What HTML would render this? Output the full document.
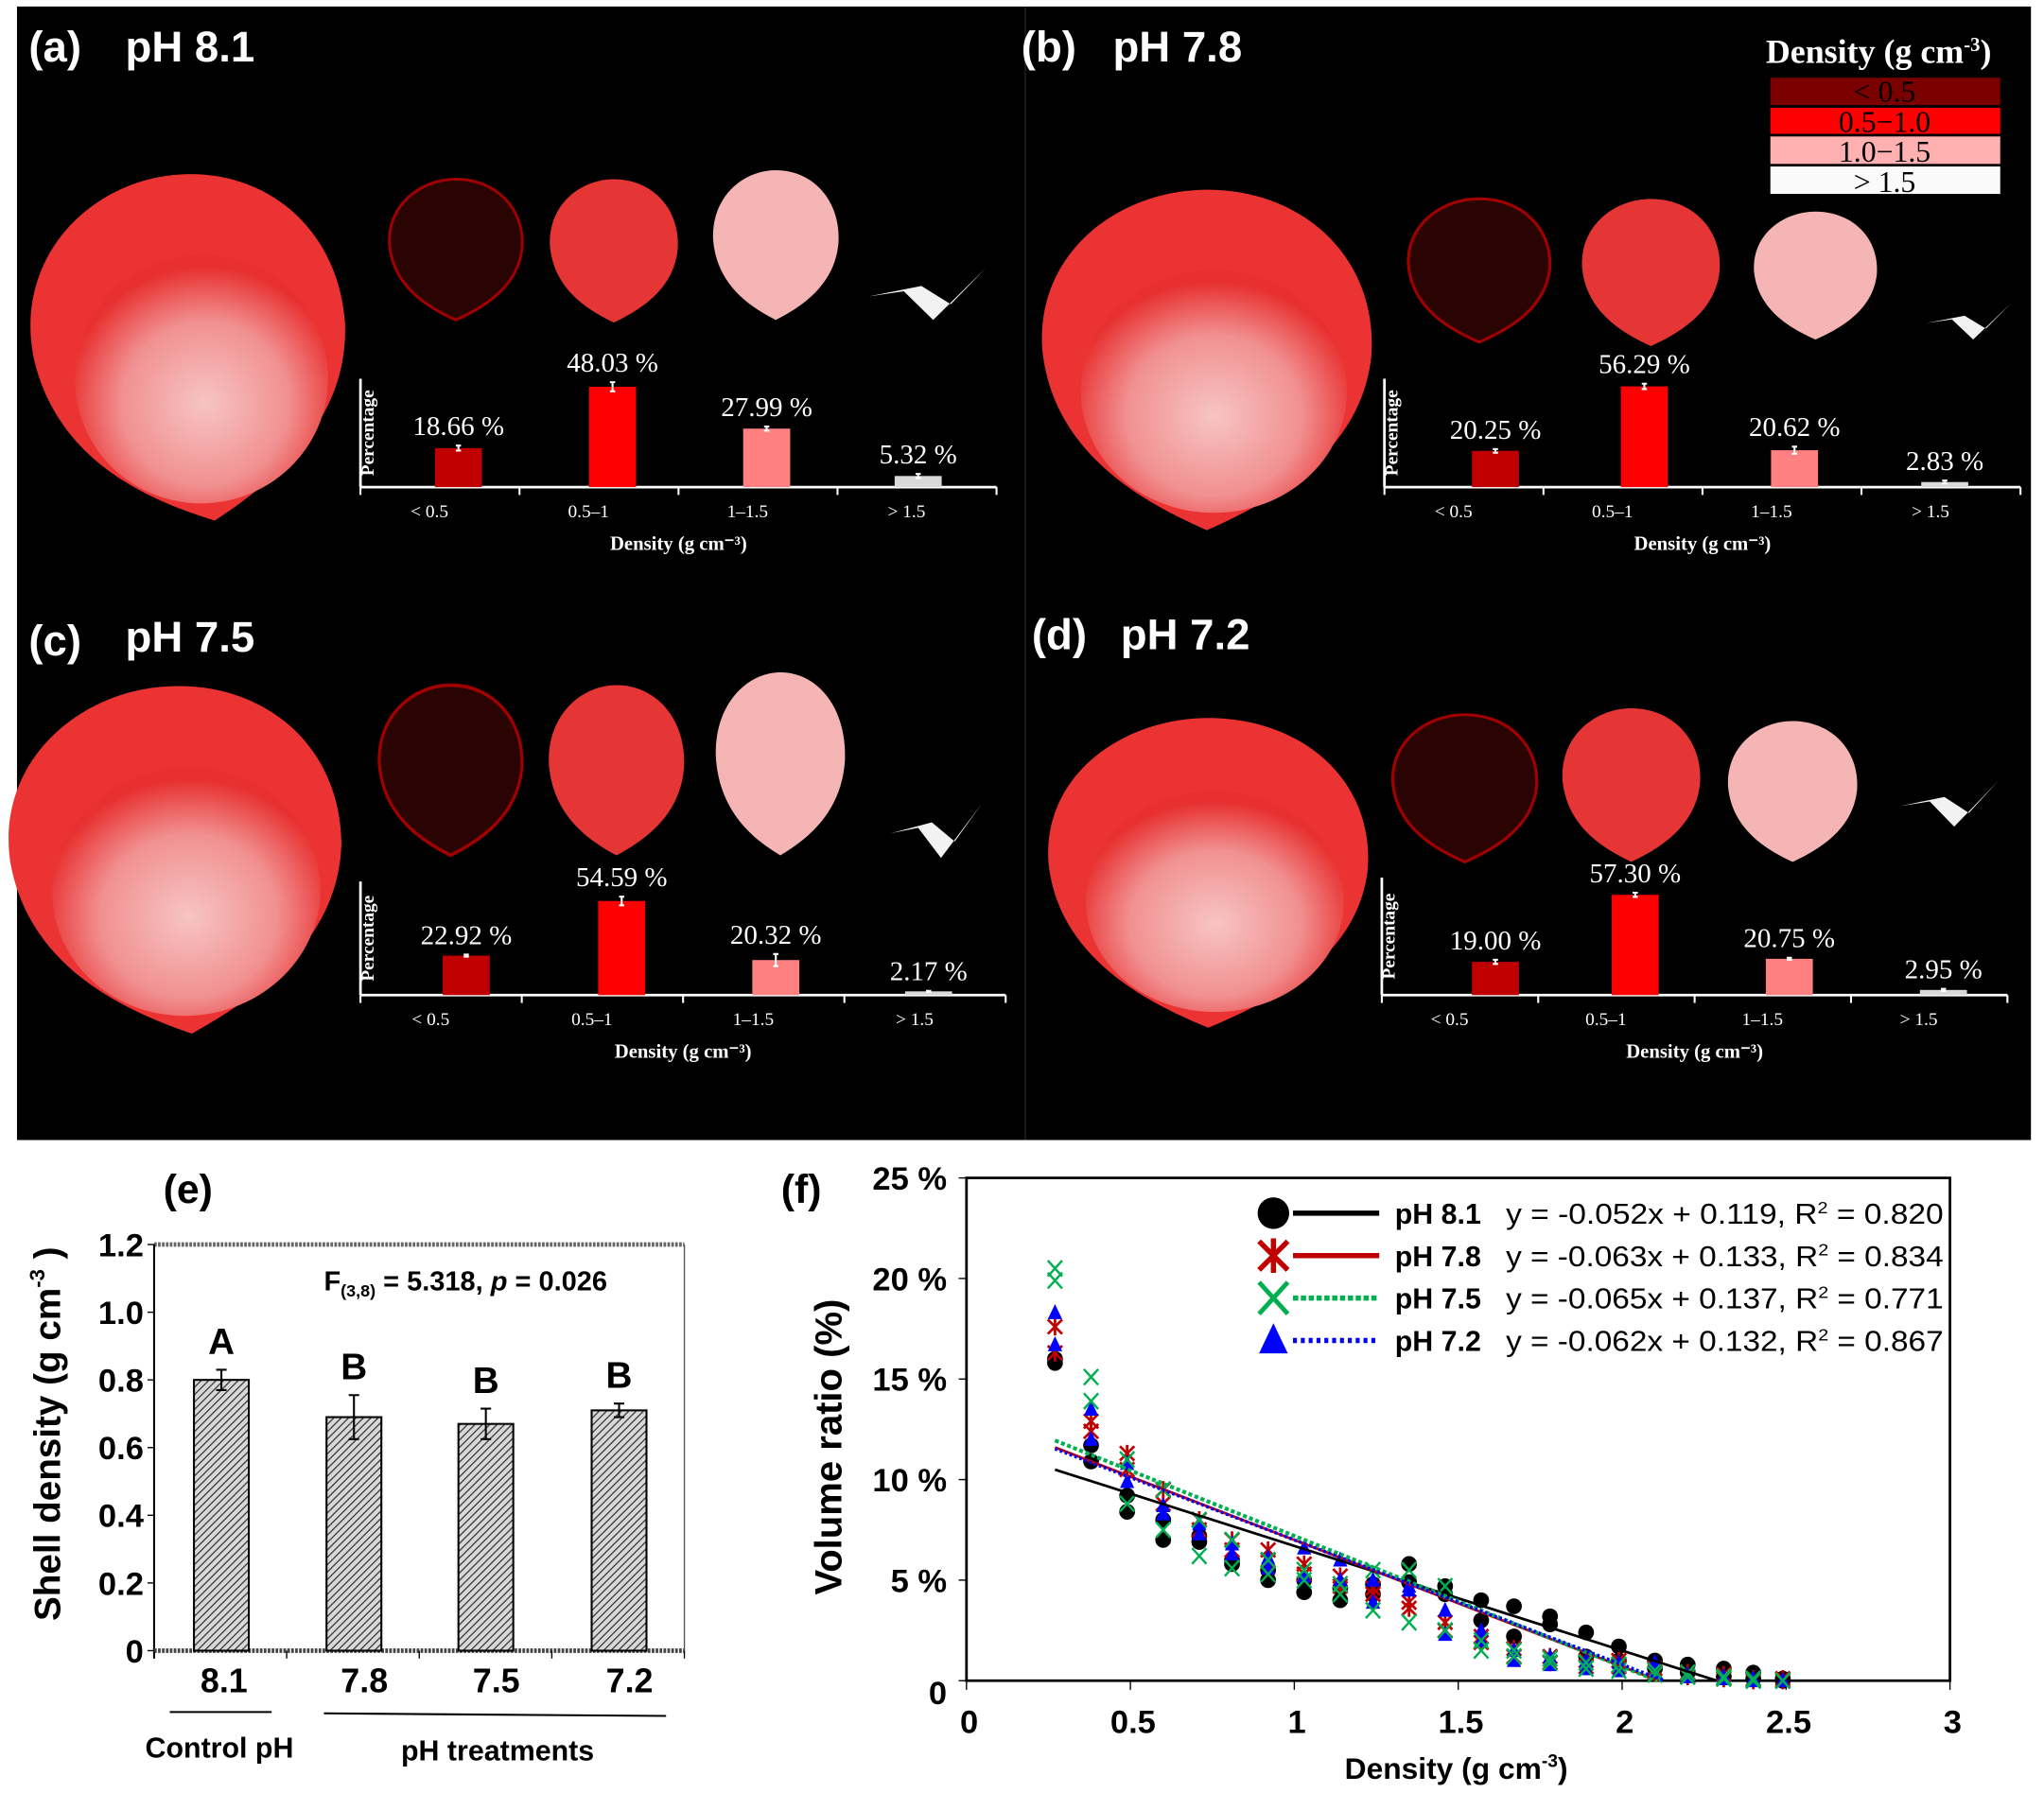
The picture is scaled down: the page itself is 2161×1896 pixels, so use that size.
<!DOCTYPE html>
<html><head><meta charset="utf-8"><style>
html,body{margin:0;padding:0;background:#fff}
svg{display:block}
text{font-family:"Liberation Sans",Arial,sans-serif}
.serif{font-family:"Liberation Serif","Times New Roman",serif}
</style></head><body>
<svg id="fig" width="2161" height="1896" viewBox="0 0 1565 1373" preserveAspectRatio="none" xmlns="http://www.w3.org/2000/svg">
<defs>
<path id="shellU" d="M0.5,1 C0.32,0.92 0.06,0.78 0.03,0.48 C0.01,0.2 0.25,0.02 0.5,0.02 C0.78,0.02 0.99,0.22 0.97,0.5 C0.94,0.78 0.68,0.92 0.5,1 Z"/>
<radialGradient id="bigG" cx="0.5" cy="0.6" r="0.55"><stop offset="0" stop-color="#f7c4c4"/><stop offset="0.6" stop-color="#f19090"/><stop offset="1" stop-color="#e83030"/></radialGradient>
<pattern id="hatch" width="4" height="4" patternUnits="userSpaceOnUse" patternTransform="rotate(45)"><rect width="4" height="4" fill="#d8d8d8"/><line x1="0" y1="0" x2="0" y2="4" stroke="#333" stroke-width="1.8"/></pattern>
</defs>
<rect x="13" y="5" width="1542" height="868" fill="#000"/>
<line x1="785" y1="5" x2="785" y2="873" stroke="#222" stroke-width="1"/>
<g id="shells"></g>
<g id="minis"></g>
<g fill="#fff" font-weight="bold" font-size="33">
<text x="22" y="47">(a)</text><text x="96" y="47">pH 8.1</text>
<text x="782" y="47">(b)</text><text x="852" y="47">pH 7.8</text>
<text x="22" y="502">(c)</text><text x="96" y="499">pH 7.5</text>
<text x="790" y="497">(d)</text><text x="858" y="497">pH 7.2</text>
</g>
<g>
<text class="serif" x="1352" y="48" fill="#fff" font-weight="bold" font-size="26">Density (g cm<tspan dy="-9" font-size="15">-3</tspan><tspan dy="9">)</tspan></text>
<rect x="1355" y="59" width="177" height="22" fill="#7a0000" stroke="#000"/><text class="serif" x="1443" y="78" text-anchor="middle" font-size="23">&lt; 0.5</text>
<rect x="1355" y="82" width="177" height="21" fill="#ff0000" stroke="#000"/><text class="serif" x="1443" y="101" text-anchor="middle" font-size="23">0.5−1.0</text>
<rect x="1355" y="104" width="177" height="22" fill="#ffb0b0" stroke="#000"/><text class="serif" x="1443" y="124" text-anchor="middle" font-size="23">1.0−1.5</text>
<rect x="1355" y="127" width="177" height="22" fill="#fafafa" stroke="#000"/><text class="serif" x="1443" y="147" text-anchor="middle" font-size="23">&gt; 1.5</text>
</g>
<g id="panelE"></g>
<g id="panelF"></g>
</svg>
<script>
const NS="http://www.w3.org/2000/svg";
function mk(tag,attrs,parent,txt){const e=document.createElementNS(NS,tag);for(const k in attrs)e.setAttribute(k,attrs[k]);if(txt!==undefined)e.textContent=txt;parent.appendChild(e);return e;}

// ---------- mini histogram data (panels a-d) ----------
const miniCats=["< 0.5","0.5–1","1–1.5","> 1.5"];
const miniA=[18.66,48.03,27.99,5.32];
const miniB=[20.25,56.29,20.62,2.83];
const miniC=[22.92,54.59,20.32,2.17];
const miniD=[19.00,57.30,20.75,2.95];
const miniErrA=[1.2,2.2,1.0,1.0];
const miniErrB=[1.0,1.5,2.0,0.8];
const miniErrC=[0.6,2.5,3.5,0.3];
const miniErrD=[1.2,1.2,0.6,0.6];
const miniColors=["#c00000","#ff0000","#ff8080","#d9d9d9"];

// ---------- panel e data ----------
const eCats=["8.1","7.8","7.5","7.2"];
const eVals=[0.80,0.69,0.67,0.71];
const eErr=[0.03,0.065,0.045,0.02];
const eLetters=["A","B","B","B"];
const eTicks=[0,0.2,0.4,0.6,0.8,1.0,1.2];

// ---------- panel f data ----------
const fX=[0.27,0.38,0.49,0.6,0.71,0.81,0.92,1.03,1.14,1.24,1.35,1.46,1.57,1.67,1.78,1.89,1.99,2.1,2.2,2.31,2.4,2.49];
const f81a=[16.0,11.7,9.2,8.0,6.9,5.8,5.0,4.4,4.0,4.8,5.8,4.7,4.0,3.7,3.2,2.4,1.7,1.0,0.8,0.6,0.4,0.1];
const f81b=[15.8,10.9,8.4,7.0,7.2,6.0,5.5,5.0,4.6,4.3,4.9,4.3,3.0,2.2,2.8,1.2,1.0,0.6,0.4,0.2,0.1,0.0];
const f78a=[16.3,12.9,11.3,9.5,8.0,7.0,6.5,5.8,5.2,4.6,3.9,2.9,2.2,1.6,1.2,1.0,1.0,0.6,0.4,0.3,0.1,0.1];
const f78b=[17.6,12.4,10.5,8.8,7.5,6.5,6.0,5.3,4.7,4.3,3.6,2.5,1.9,1.2,0.9,0.7,0.7,0.4,0.2,0.1,0.0,0.0];
const f75a=[20.5,15.1,11.0,7.5,6.2,5.6,5.3,5.0,4.3,3.5,2.9,4.7,1.5,1.2,0.9,0.6,0.5,0.3,0.2,0.1,0.1,0.0];
const f75b=[19.9,13.9,8.8,9.5,8.0,7.0,6.0,5.5,4.8,5.5,5.5,2.5,2.0,1.5,1.1,0.9,0.8,0.5,0.4,0.2,0.0,0.0];
const f72a=[18.3,13.5,9.9,8.7,7.3,6.3,5.6,5.2,6.0,3.9,4.5,3.5,2.0,1.0,0.8,0.6,0.5,0.9,0.3,0.1,0.1,0.0];
const f72b=[16.7,12.0,10.8,8.3,7.8,6.8,6.1,6.6,5.0,5.0,4.7,2.3,2.5,1.5,1.2,1.0,0.9,0.4,0.2,0.2,0.0,0.0];
const fSlopes=[-0.052,-0.063,-0.065,-0.062];
const fIntercepts=[0.119,0.133,0.137,0.132];
const fR2=["0.820","0.834","0.771","0.867"];
const fNames=["pH 8.1","pH 7.8","pH 7.5","pH 7.2"];
const fXTicks=[0,0.5,1,1.5,2,2.5,3];
const fYTicks=[0,5,10,15,20,25];

// ---------- shells ----------
const shells=document.getElementById('shells');
function shell(x,y,w,h,fill,stroke,name,rot){
  const g=mk('g',{transform:`translate(${x},${y}) rotate(${rot||0},${w/2},${h/2}) scale(${w},${h})`},shells);
  
  
  mk('use',{href:'#shellU',fill:fill,stroke:stroke||'none','stroke-width':0.02},g);
  return g;
}
const bigs=[[18,128,255,272,'big-shell-a',-8],[790,140,268,266,'big-shell-b',0],[0,520,270,272,'big-shell-c',-5],[795,545,260,242,'big-shell-d',0]];
bigs.forEach(b=>{
  const g=shell(b[0],b[1],b[2],b[3],'#ec3333',null,b[4],b[5]);
  mk('ellipse',{cx:0.52,cy:0.6,rx:0.38,ry:0.35,fill:'url(#bigG)'},g);
});
const smalls=[[295,135,108,110],[418,135,104,112],[543,128,102,117],[1075,150,115,112],[1208,150,112,115],[1340,160,100,100],[287,522,116,133],[417,522,110,133],[545,512,105,143],[1063,545,117,115],[1193,540,112,120],[1320,550,105,110]];
const smallFill=['#2a0303','#e53535','#f6b5b5'];
smalls.forEach((s,i)=>{
  const k=i%3;
  shell(s[0],s[1],s[2],s[3],smallFill[k],k===0?'#a00000':'none','density-shell-'+(i+1),0);
});
const flakes=[[665,205,90,40],[1475,232,65,28],[682,615,70,42],[1455,598,75,35]];
flakes.forEach((f,i)=>{
  const p=mk('path',{d:`M${f[0]},${f[1]+f[3]*0.55} L${f[0]+f[2]*0.3},${f[1]+f[3]*0.45} L${f[0]+f[2]*0.55},${f[1]+f[3]} L${f[0]+f[2]},${f[1]} L${f[0]+f[2]*0.7},${f[1]+f[3]*0.7} L${f[0]+f[2]*0.45},${f[1]+f[3]*0.35} Z`,fill:'#f2f2f2'},shells);
  
  
});

// ---------- mini histograms ----------
const minis=document.getElementById('minis');
// [x0, x1, baseline, axisTop, bar centres, values, errors, id, px-per-percent]
const miniCfg=[[276,763,373,290,[351,469,587,703],miniA,miniErrA,'a',1.6],[1060,1547,373,290,[1145,1259,1374,1489],miniB,miniErrB,'b',1.37],[276,770,762,675,[357,476,594,711],miniC,miniErrC,'c',1.32],[1058,1537,762,672,[1145,1252,1370,1488],miniD,miniErrD,'d',1.34]];
miniCfg.forEach(c=>{
  const [x0,x1,base,top,cx,vals,errs,id,sc]=c;
  const g=mk('g',{},minis);
  
  
  const ys=v=>base-v*sc;
  mk('line',{x1:x0,y1:base,x2:x1,y2:base,stroke:'#fff','stroke-width':2},g);
  mk('line',{x1:x0,y1:top,x2:x0,y2:base,stroke:'#fff','stroke-width':2},g);
  const step=(x1-x0)/4;
  for(let i=0;i<=4;i++)mk('line',{x1:x0+i*step,y1:base,x2:x0+i*step,y2:base+6,stroke:'#fff','stroke-width':1.5},g);
  vals.forEach((v,i)=>{
    const r=mk('rect',{x:cx[i]-18,y:ys(v),width:36,height:base-ys(v),fill:miniColors[i]},g);
    
    
    mk('path',{d:`M${cx[i]},${ys(v+errs[i])}V${ys(v-errs[i])}M${cx[i]-2},${ys(v+errs[i])}h4M${cx[i]-2},${ys(v-errs[i])}h4`,stroke:'#fff','stroke-width':1.5},g);
    mk('text',{class:'serif',x:cx[i],y:ys(v+errs[i])-8,'text-anchor':'middle',fill:'#fff','font-size':21},g,v.toFixed(2)+' %');
    mk('text',{class:'serif',x:x0+step*(i+0.5)-8,y:base+23,'text-anchor':'middle',fill:'#fff','font-size':14},g,miniCats[i]);
  });
  mk('text',{class:'serif',x:(x0+x1)/2,y:base+48,'text-anchor':'middle',fill:'#fff','font-size':15,'font-weight':'bold'},g,'Density (g cm⁻³)');
  mk('text',{class:'serif',transform:`translate(${x0+10},${(top+base)/2}) rotate(-90)`,'text-anchor':'middle',fill:'#fff','font-size':14,'font-weight':'bold'},g,'Percentage');
});

// ---------- panel e ----------
(function(){
  const g=document.getElementById('panelE');
  const L=118,R=524,Y0=1264,Y1=953;
  const y=v=>Y0-(v/1.2)*(Y0-Y1);
  const xc=[169.5,271,372,474];
  mk('text',{x:125,y:921,'font-size':31,'font-weight':'bold'},g,'(e)');
  mk('line',{x1:L,y1:Y1,x2:R,y2:Y1,stroke:'#666','stroke-width':3.5,'stroke-dasharray':'2,1'},g);
  mk('line',{x1:R,y1:Y1,x2:R,y2:Y0,stroke:'#555','stroke-width':1},g);
  mk('line',{x1:L,y1:Y1,x2:L,y2:Y0+6,stroke:'#000','stroke-width':1.5},g);
  mk('line',{x1:L,y1:Y0,x2:R,y2:Y0,stroke:'#444','stroke-width':3.5,'stroke-dasharray':'2,1'},g);
  eTicks.forEach(t=>{
    mk('line',{x1:L-5,y1:y(t),x2:L,y2:y(t),stroke:'#000'},g);
    mk('text',{x:L-8,y:y(t)+9,'text-anchor':'end','font-size':25,'font-weight':'bold'},g,t===0?'0':t.toFixed(1));
  });
  for(let i=0;i<=4;i++){const xx=L+i*(R-L)/4;mk('line',{x1:xx,y1:Y0,x2:xx,y2:Y0+6,stroke:'#000'},g);}
  eVals.forEach((v,i)=>{
    const r=mk('rect',{x:xc[i]-21,y:y(v),width:42,height:Y0-y(v),fill:'url(#hatch)',stroke:'#000','stroke-width':1.5},g);
    
    
    const a=y(v+eErr[i]),b=y(v-eErr[i]);
    mk('path',{d:`M${xc[i]},${a}V${b}M${xc[i]-4},${a}h8M${xc[i]-4},${b}h8`,stroke:'#000','stroke-width':1.5},g);
    mk('text',{x:xc[i],y:a-12,'text-anchor':'middle','font-size':28,'font-weight':'bold'},g,eLetters[i]);
    mk('text',{x:xc[i]+(i===0?2:8),y:Y0+32,'text-anchor':'middle','font-size':26,'font-weight':'bold'},g,eCats[i]);
  });
  const ft=mk('text',{x:248,y:988,'font-size':21,'font-weight':'bold'},g);
  ft.innerHTML='F<tspan font-size="13" dy="5">(3,8)</tspan><tspan dy="-5"> = 5.318,  </tspan><tspan font-style="italic">p</tspan> = 0.026';
  mk('line',{x1:130,y1:1311,x2:208,y2:1311,stroke:'#000','stroke-width':1.5},g);
  mk('line',{x1:248,y1:1312,x2:510,y2:1314,stroke:'#000','stroke-width':1.5},g);
  mk('text',{x:168,y:1346,'text-anchor':'middle','font-size':22,'font-weight':'bold'},g,'Control pH');
  mk('text',{x:381,y:1348,'text-anchor':'middle','font-size':22,'font-weight':'bold'},g,'pH treatments');
  const yt=mk('text',{transform:'translate(46,1098) rotate(-90)','text-anchor':'middle','font-size':28,'font-weight':'bold'},g);
  yt.innerHTML='Shell density (g cm<tspan font-size="16" dy="-12">-3</tspan><tspan dy="12"> )</tspan>';
  
  
})();

// ---------- panel f ----------
(function(){
  const g=document.getElementById('panelF');
  const X0=740,X3=1493,Y0=1287,Y25=902;
  const x=v=>X0+v/3*(X3-X0);
  const y=v=>Y0-v/25*(Y0-Y25);
  mk('text',{x:598,y:921,'font-size':31,'font-weight':'bold'},g,'(f)');
  mk('rect',{x:X0,y:Y25,width:X3-X0,height:Y0-Y25,fill:'none',stroke:'#000','stroke-width':2},g);
  fXTicks.forEach(t=>{mk('line',{x1:x(t),y1:Y0,x2:x(t),y2:Y0+7,stroke:'#000'},g);
    mk('text',{x:x(t)+2,y:Y0+40,'text-anchor':'middle','font-size':25,'font-weight':'bold'},g,String(t));});
  fYTicks.forEach(t=>{mk('line',{x1:X0-6,y1:y(t),x2:X0,y2:y(t),stroke:'#000'},g);
    mk('text',{x:X0-15,y:y(t)+(t===0?18:9),'text-anchor':'end','font-size':25,'font-weight':'bold'},g,t===0?'0':t+' %');});
  const yt=mk('text',{transform:'translate(644,1108) rotate(-90)','text-anchor':'middle','font-size':29,'font-weight':'bold'},g,'Volume ratio (%)');
  
  
  const xt=mk('text',{x:1115,y:1362,'text-anchor':'middle','font-size':23,'font-weight':'bold'},g);
  xt.innerHTML='Density (g cm<tspan font-size="14" dy="-9">-3</tspan><tspan dy="9">)</tspan>';
  
  
  const colors=['#000','#c00000','#00b050','#0000ff'];
  function marker(k,cx,cy,s,par){
    if(k===0)return mk('circle',{cx,cy,r:s*0.55,fill:'#000'},par);
    if(k===1)return mk('path',{d:`M${cx-s*0.5},${cy-s*0.5}L${cx+s*0.5},${cy+s*0.5}M${cx+s*0.5},${cy-s*0.5}L${cx-s*0.5},${cy+s*0.5}M${cx},${cy-s*0.6}V${cy+s*0.6}`,stroke:'#c00000','stroke-width':s*0.18,fill:'none'},par);
    if(k===2)return mk('path',{d:`M${cx-s*0.5},${cy-s*0.55}L${cx+s*0.5},${cy+s*0.55}M${cx+s*0.5},${cy-s*0.55}L${cx-s*0.5},${cy+s*0.55}`,stroke:'#00b050','stroke-width':s*0.16,fill:'none'},par);
    return mk('path',{d:`M${cx},${cy-s*0.6}L${cx+s*0.5},${cy+s*0.45}L${cx-s*0.5},${cy+s*0.45}Z`,fill:'#0000ff'},par);
  }
  const series=[[f81a,f81b],[f78a,f78b],[f75a,f75b],[f72a,f72b]];
  const order=[0,1,3,2];
  order.forEach(k=>{
    const sg=mk('g',{},g);
    
    
    series[k].forEach(arr=>arr.forEach((v,i)=>{
      const m=marker(k,x(fX[i]),y(v),11,sg);
      
      
    }));
  });
  const dash=[null,null,'3,2','2,2'];
  const widths=[2,2,3,2.5];
  [0,1,2,3].forEach(k=>{
    const xs=fX[0], xe=-fIntercepts[k]/fSlopes[k];
    const l=mk('line',{x1:x(xs),y1:y(100*(fSlopes[k]*xs+fIntercepts[k])),x2:x(xe),y2:y(0),stroke:colors[k],'stroke-width':widths[k]},g);
    if(dash[k])l.setAttribute('stroke-dasharray',dash[k]);
    
    
  });
  [0,1,2,3].forEach(k=>{
    const ly=929+k*32.5;
    const lg=mk('g',{},g);
    
    
    marker(k,975,ly,22,lg);
    const l=mk('line',{x1:990,y1:ly,x2:1056,y2:ly,stroke:colors[k],'stroke-width':4},lg);
    if(k===2)l.setAttribute('stroke-dasharray','4,2');
    if(k===3)l.setAttribute('stroke-dasharray','3,3');
    mk('text',{x:1068,y:ly+8,'font-size':22,'font-weight':'bold'},lg,fNames[k]);
    const eq=mk('text',{x:1153,y:ly+8,'font-size':22,textLength:335,lengthAdjust:'spacingAndGlyphs'},lg);
    eq.innerHTML=`y = ${fSlopes[k].toFixed(3)}x + ${fIntercepts[k].toFixed(3)}, R<tspan font-size="13" dy="-8">2</tspan><tspan dy="8"> = ${fR2[k]}</tspan>`;
  });
})();
</script>
</body></html>
